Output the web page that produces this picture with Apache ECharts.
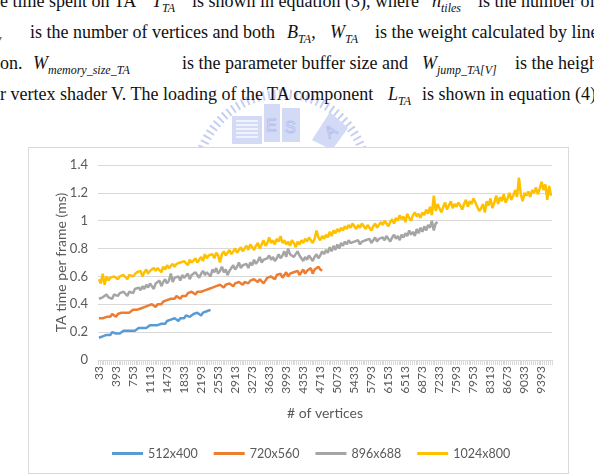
<!DOCTYPE html>
<html>
<head>
<meta charset="utf-8">
<script src="https://cdn.jsdelivr.net/npm/echarts@6/dist/echarts.min.js"></script>
<style>
  html, body { margin: 0; padding: 0; background: #fff; }
  #page { position: relative; width: 594px; height: 475px; overflow: hidden; }
  .seg { position: absolute; white-space: nowrap; font-family: "Liberation Serif", serif; font-size: 18px; color: #111; line-height: 1; }
  .seg i sub { font-size: 12px; }
  #frame { position: absolute; left: 28px; top: 147px; width: 539px; height: 325px; border: 1px solid #d9d9d9; background: #fff; }
  #main { position: absolute; left: 0; top: 0; width: 594px; height: 475px; }
  #wm { position: absolute; left: 0; top: 0; }
</style>
</head>
<body>
<div id="page">
  <svg id="wm" width="594" height="160">
    <circle cx="282" cy="180" r="86" fill="none" stroke="#c7cff1" stroke-width="9" stroke-dasharray="2 3.5"/>
    <g fill="#d3daf5">
      <rect x="232" y="116" width="30" height="28"/>
      <rect x="264" y="104" width="16" height="38"/>
      <rect x="282" y="108" width="18" height="34"/>
      <polygon points="312,140 330,112 348,128 332,150"/>
    </g>
    <g stroke="#fff" stroke-width="1.3">
      <line x1="236" y1="121" x2="258" y2="121"/><line x1="236" y1="125" x2="258" y2="125"/>
      <line x1="236" y1="129" x2="258" y2="129"/><line x1="236" y1="133" x2="258" y2="133"/>
      <line x1="236" y1="137" x2="258" y2="137"/>
    </g>
    <g fill="#fff" stroke="#b3c0ee" stroke-width="1" font-family="Liberation Sans, sans-serif" font-size="16">
      <text x="266" y="131">E</text><text x="285" y="133">S</text>
      <text x="325" y="137" transform="rotate(-35 330 131)">A</text>
    </g>
  </svg>

  <span class="seg" style="left:0;top:-8px">e time spent on TA</span>
  <span class="seg" style="left:152px;top:-8px"><i>T<sub>TA</sub></i></span>
  <span class="seg" style="left:192px;top:-8px">is shown in equation (3), where</span>
  <span class="seg" style="left:432px;top:-8px"><i>n<sub>tiles</sub></i></span>
  <span class="seg" style="left:478px;top:-8px">is the number of the</span>

  <span class="seg" style="left:-4px;top:23px"><i><sub>v</sub></i></span>
  <span class="seg" style="left:30px;top:23px">is the number of vertices and both</span>
  <span class="seg" style="left:287px;top:23px"><i>B<sub>TA</sub></i>,</span>
  <span class="seg" style="left:330px;top:23px"><i>W<sub>TA</sub></i></span>
  <span class="seg" style="left:375px;top:23px">is the weight calculated by linear</span>

  <span class="seg" style="left:0;top:54px">on.</span>
  <span class="seg" style="left:33px;top:54px"><i>W<sub>memory_size_TA</sub></i></span>
  <span class="seg" style="left:182px;top:54px">is the parameter buffer size and</span>
  <span class="seg" style="left:422px;top:54px"><i>W<sub>jump_TA[V]</sub></i></span>
  <span class="seg" style="left:515px;top:54px">is the height</span>

  <span class="seg" style="left:0;top:85px">r vertex shader V. The loading of the TA component</span>
  <span class="seg" style="left:388px;top:85px"><i>L<sub>TA</sub></i></span>
  <span class="seg" style="left:422px;top:85px">is shown in equation (4).</span>

  <div id="frame"></div>
  <div id="main"></div>
</div>
<script>
// number of vertices, one category every 40
const vertices = [];
for (let v = 33; v <= 9593; v += 40) vertices.push(v);

const seriesNames = ['512x400', '720x560', '896x688', '1024x800'];
const colors = ['#5b9bd5', '#ed7d31', '#a5a5a5', '#ffc000'];

const res512 = [
  0.16,0.15,0.17,0.16,0.18,0.19,0.18,0.20,0.19,0.19,
  0.20,0.19,0.20,0.21,0.20,0.21,0.22,0.21,0.22,0.21,
  0.22,0.23,0.22,0.23,0.24,0.23,0.24,0.25,0.24,0.25,
  0.26,0.25,0.24,0.26,0.27,0.26,0.28,0.27,0.29,0.28,
  0.30,0.29,0.28,0.30,0.31,0.30,0.32,0.33,0.31,0.32,
  0.33,0.32,0.34,0.33,0.32,0.34,0.33,0.35,0.34,0.36
];
const res720 = [
  0.30,0.29,0.30,0.29,0.31,0.32,0.31,0.33,0.32,0.31,
  0.33,0.32,0.34,0.33,0.34,0.35,0.34,0.35,0.36,0.35,
  0.36,0.35,0.37,0.36,0.38,0.37,0.39,0.38,0.40,0.39,
  0.38,0.40,0.41,0.40,0.42,0.41,0.43,0.42,0.44,0.43,
  0.44,0.46,0.45,0.44,0.46,0.47,0.46,0.48,0.47,0.49,
  0.48,0.47,0.49,0.50,0.49,0.48,0.50,0.49,0.51,0.50,
  0.52,0.51,0.53,0.52,0.54,0.53,0.52,0.54,0.53,0.55,
  0.54,0.53,0.55,0.54,0.56,0.55,0.54,0.56,0.57,0.55,
  0.57,0.56,0.58,0.57,0.56,0.58,0.57,0.55,0.57,0.59,
  0.58,0.60,0.59,0.58,0.61,0.60,0.62,0.59,0.61,0.63,
  0.60,0.62,0.61,0.63,0.62,0.64,0.61,0.63,0.65,0.62,
  0.64,0.63,0.66,0.62,0.65,0.64,0.67,0.65,0.64
];
const res896 = [
  0.44,0.43,0.45,0.44,0.47,0.45,0.46,0.44,0.47,0.48,
  0.46,0.48,0.47,0.49,0.48,0.46,0.49,0.50,0.48,0.51,
  0.50,0.52,0.50,0.53,0.51,0.54,0.52,0.55,0.53,0.51,
  0.55,0.54,0.57,0.53,0.56,0.58,0.55,0.57,0.62,0.56,
  0.59,0.58,0.60,0.57,0.61,0.59,0.60,0.62,0.58,0.61,
  0.60,0.63,0.61,0.59,0.62,0.64,0.61,0.63,0.62,0.60,
  0.65,0.63,0.66,0.62,0.64,0.67,0.63,0.65,0.61,0.64,
  0.66,0.68,0.65,0.67,0.70,0.66,0.68,0.67,0.69,0.66,
  0.70,0.68,0.72,0.69,0.71,0.74,0.70,0.72,0.71,0.73,
  0.75,0.72,0.74,0.71,0.73,0.76,0.73,0.75,0.78,0.74,
  0.80,0.76,0.77,0.74,0.76,0.78,0.75,0.73,0.71,0.74,
  0.72,0.75,0.73,0.71,0.74,0.76,0.73,0.75,0.78,0.76,
  0.79,0.77,0.81,0.78,0.82,0.79,0.83,0.80,0.84,0.82,
  0.85,0.83,0.86,0.84,0.83,0.85,0.84,0.86,0.83,0.85,
  0.84,0.86,0.85,0.87,0.84,0.86,0.88,0.85,0.87,0.86,
  0.88,0.86,0.89,0.87,0.85,0.88,0.90,0.87,0.89,0.86,
  0.90,0.88,0.91,0.89,0.93,0.90,0.92,0.89,0.94,0.91,
  0.95,0.92,0.96,0.93,0.97,0.95,1.00,0.93,0.98,0.99
];
const res1024 = [
  0.58,0.55,0.62,0.54,0.60,0.57,0.59,0.58,0.60,0.59,
  0.58,0.60,0.59,0.61,0.60,0.58,0.61,0.62,0.60,0.61,
  0.63,0.62,0.64,0.60,0.63,0.65,0.62,0.64,0.63,0.66,
  0.64,0.66,0.65,0.63,0.67,0.65,0.68,0.66,0.67,0.69,
  0.67,0.69,0.68,0.70,0.69,0.71,0.70,0.68,0.72,0.70,
  0.71,0.73,0.70,0.72,0.74,0.71,0.76,0.73,0.75,0.74,
  0.76,0.73,0.77,0.75,0.70,0.76,0.78,0.75,0.77,0.79,
  0.76,0.78,0.80,0.77,0.79,0.81,0.78,0.80,0.82,0.79,
  0.83,0.81,0.79,0.82,0.84,0.80,0.83,0.86,0.82,0.84,
  0.88,0.84,0.86,0.83,0.87,0.85,0.89,0.84,0.86,0.83,
  0.85,0.82,0.86,0.84,0.81,0.85,0.83,0.86,0.84,0.87,
  0.85,0.88,0.86,0.84,0.87,0.93,0.88,0.86,0.89,0.87,
  0.90,0.88,0.92,0.89,0.93,0.91,0.94,0.92,0.95,0.93,
  0.96,0.94,0.97,0.95,0.98,0.96,0.94,0.97,0.95,0.98,
  0.96,0.94,0.97,0.95,0.93,0.96,0.98,0.95,0.97,0.99,
  0.97,1.00,0.98,0.96,0.99,1.01,0.98,1.02,1.00,1.04,
  1.01,1.03,0.99,1.05,1.02,1.00,1.04,1.06,1.03,1.05,
  1.02,1.06,1.04,1.08,1.05,1.10,1.04,1.18,1.07,1.12,
  1.09,1.06,1.10,1.13,1.08,1.11,1.14,1.09,1.12,1.10,
  1.13,1.11,1.08,1.12,1.15,1.10,1.14,1.12,1.16,1.13,
  1.10,1.07,1.09,1.12,1.06,1.14,1.11,1.16,1.09,1.13,
  1.18,1.12,1.17,1.14,1.19,1.13,1.16,1.20,1.15,1.18,
  1.22,1.17,1.31,1.19,1.14,1.20,1.18,1.21,1.17,1.22,
  1.20,1.24,1.19,1.23,1.28,1.22,1.26,1.15,1.25,1.18
];

const allData = [res512, res720, res896, res1024];
const font = 'Lato, "Liberation Sans", sans-serif';

let myChart = echarts.init(document.getElementById('main'));
myChart.setOption({
  backgroundColor: 'transparent',
  animation: false,
  grid: { left: 98, right: 42, top: 165, bottom: 115 },
  legend: {
    data: seriesNames,
    left: 107,
    top: 442,
    icon: 'rect',
    itemWidth: 31,
    itemHeight: 3,
    itemGap: 16,
    textStyle: { color: '#595959', fontSize: 12.5, fontFamily: font }
  },
  xAxis: {
    type: 'category',
    data: vertices,
    boundaryGap: true,
    name: '# of vertices',
    nameLocation: 'middle',
    nameGap: 46,
    nameTextStyle: { color: '#595959', fontSize: 14, fontFamily: font },
    axisLine: { lineStyle: { color: '#d9d9d9' } },
    axisTick: { show: true, interval: 0, length: 5, lineStyle: { color: '#d9d9d9' } },
    axisLabel: { interval: 8, rotate: 90, margin: 6, color: '#595959', fontSize: 12, fontFamily: font }
  },
  yAxis: {
    type: 'value',
    min: 0,
    max: 1.4,
    interval: 0.2,
    name: 'TA time per frame (ms)',
    nameLocation: 'middle',
    nameRotate: 90,
    nameGap: 30,
    nameMoveOverlap: false,
    nameTextStyle: { color: '#595959', fontSize: 14, fontFamily: font },
    axisLine: { show: false },
    axisTick: { show: false },
    splitLine: { lineStyle: { color: '#d9d9d9' } },
    axisLabel: { margin: 10, color: '#595959', fontSize: 13, fontFamily: font }
  },
  series: seriesNames.map((name, k) => ({
    name: name,
    type: 'line',
    data: allData[k],
    symbol: 'none',
    color: colors[k],
    lineStyle: { width: 2.5, color: colors[k] }
  }))
});
</script>
</body>
</html>
